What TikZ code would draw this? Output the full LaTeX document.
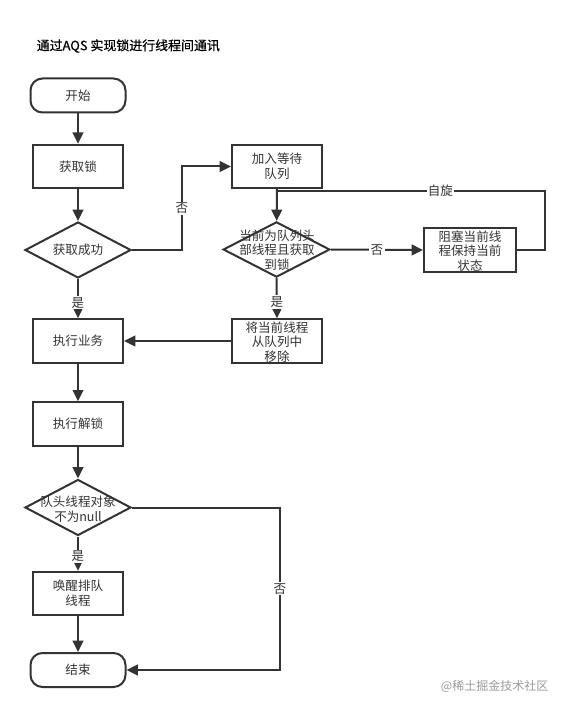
\documentclass[tikz,border=0pt]{standalone}
\usepackage{fontspec}
\setmainfont{Noto Sans CJK SC}
\newfontfamily\titlefont[FakeBold=0.6]{Noto Sans CJK SC}
\usetikzlibrary{shapes.geometric,arrows.meta}
\definecolor{ink}{HTML}{333333}
\definecolor{wm}{HTML}{9A9A9A}
\tikzset{
  every node/.style={font=\fontsize{9.4pt}{11.2pt}\selectfont, text=ink},
  proc/.style={draw=ink, line width=1.5pt, minimum width=67.5pt, minimum height=32.5pt, inner sep=0pt, align=center, fill=white},
  term/.style={draw=ink, line width=1.5pt, minimum width=71.25pt, minimum height=25.5pt, rounded corners=9pt, inner sep=0pt, fill=white},
  dia/.style={draw=ink, line width=1.5pt, shape=diamond, minimum width=79.5pt, minimum height=42pt, inner sep=0pt},
  txt/.style={align=center, inner sep=0pt},
  link/.style={draw=ink, line width=1.5pt},
  arr/.style={link, -{Triangle[length=8.5pt,width=8pt]}},
  lbl/.style={fill=white, inner sep=1pt, font=\fontsize{9.4pt}{11pt}\selectfont},
}
\begin{document}
\begin{tikzpicture}[x=0.75pt,y=-0.75pt]
\useasboundingbox (0,0) rectangle (570,712);
\node[anchor=west, text=black, font=\titlefont\fontsize{9.7pt}{11pt}\selectfont] (title) at (32,46) {通过AQS 实现锁进行线程间通讯};

\node[term] (start) at (78,95.5) {开始};
\node[proc] (lock) at (78,166.5) {获取锁};
\node[dia] (d1) at (78,250) {};
\node[txt] (d1t) at (d1) {获取成功};
\node[proc] (queue) at (277,166.5) {加入等待\\队列};
\node[dia, minimum width=80pt, minimum height=41.5pt] (d2) at (276.5,249.5) {};
\node[txt, font=\fontsize{9.4pt}{10.9pt}\selectfont] (d2t) at (277,250) {当前为队列头\\部线程且获取\\到锁};
\node[proc, minimum width=69pt, minimum height=33pt] (block) at (470,250) {};
\node[txt, font=\fontsize{9.4pt}{10.9pt}\selectfont] (blockt) at (470,251) {阻塞当前线\\程保持当前\\状态};
\node[proc] (remove) at (277,341) {};
\node[txt, font=\fontsize{9.4pt}{10.9pt}\selectfont] (removet) at (277,342) {将当前线程\\从队列中\\移除};
\node[proc] (biz) at (78,341) {执行业务};
\node[proc] (unlock) at (78,424) {执行解锁};
\node[dia] (d3) at (78,507.5) {};
\node[txt] (d3t) at (78,509) {队头线程对象\\不为null};
\node[proc] (wake) at (78,593.5) {唤醒排队\\线程};
\node[term] (end) at (78,670) {结束};

\coordinate (j1) at (182,250);
\coordinate (s1) at (545,191);
\coordinate (s2) at (277,191);
\coordinate (c3) at (280,670);

\draw[arr] (start) -- (lock);
\draw[arr] (lock) -- (d1);
\draw[arr] (d1.east) -- (j1) |- node[lbl, pos=0.25] {否} (queue.west);
\draw[arr] (queue) -- (d2);
\draw[link] (block.east) -| (s1) -- node[lbl, pos=0.39] {自旋} (s2);
\draw[arr] (d2.east) -- node[lbl] {否} (block.west);
\draw[arr] (d2.south) -- node[lbl, pos=0.6] {是} (remove.north);
\draw[arr] (remove.west) -- (biz.east);
\draw[arr] (d1.south) -- node[lbl, pos=0.6] {是} (biz.north);
\draw[arr] (biz) -- (unlock);
\draw[arr] (unlock) -- (d3);
\draw[arr] (d3.south) -- node[lbl, pos=0.58] {是} (wake.north);
\draw[arr] (d3.east) -| (c3) node[lbl, pos=0.75] {否} -- (end.east);
\draw[arr] (wake) -- (end);

\node[anchor=east, text=wm, font=\fontsize{9pt}{10pt}\selectfont] (wmark) at (553,686) {@稀土掘金技术社区};
\end{tikzpicture}
\end{document}
